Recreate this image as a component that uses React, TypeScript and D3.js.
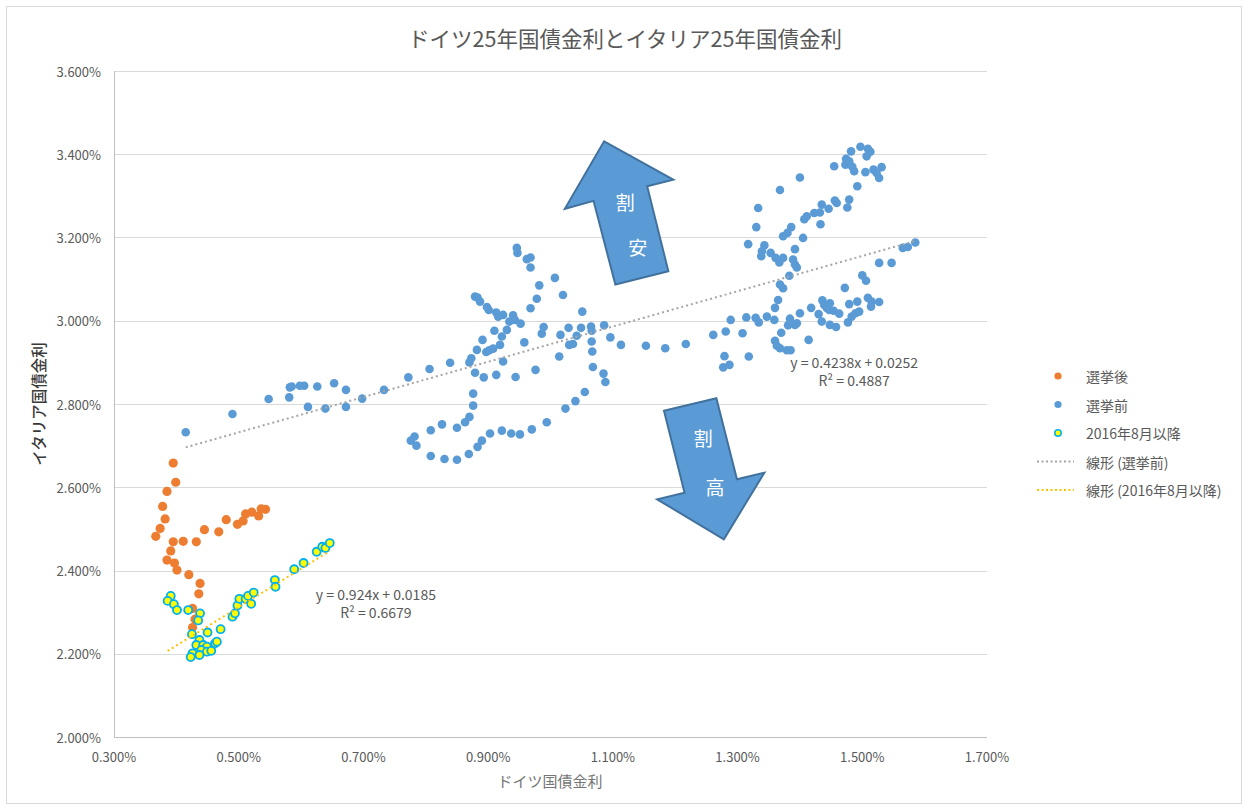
import React from 'react';
import * as d3 from 'd3';

// ---- data (values in %) ----
const afterElection: [number, number][] = [
  [0.395, 2.658], [0.399, 2.612], [0.385, 2.590], [0.378, 2.554], [0.382, 2.524], [0.374, 2.501],
  [0.367, 2.482], [0.395, 2.469], [0.411, 2.470], [0.391, 2.447], [0.385, 2.425], [0.397, 2.418],
  [0.401, 2.401], [0.420, 2.390], [0.438, 2.369], [0.436, 2.344], [0.432, 2.469], [0.445, 2.498],
  [0.468, 2.493], [0.480, 2.522], [0.498, 2.511], [0.507, 2.519], [0.511, 2.536], [0.521, 2.540],
  [0.532, 2.531], [0.536, 2.548], [0.543, 2.547], [0.426, 2.309], [0.430, 2.283], [0.426, 2.263],
];

const beforeElection: [number, number][] = [
  [0.415, 2.732], [0.490, 2.776], [0.548, 2.812], [0.581, 2.816], [0.582, 2.840], [0.585, 2.842],
  [0.598, 2.844], [0.605, 2.844], [0.626, 2.842], [0.611, 2.793], [0.639, 2.789], [0.653, 2.850],
  [0.672, 2.834], [0.672, 2.793], [0.698, 2.813], [0.733, 2.834], [0.772, 2.864], [0.806, 2.884],
  [0.839, 2.899],
  [0.946, 3.175], [0.947, 3.163], [0.962, 3.148], [0.968, 3.152], [0.968, 3.128], [1.007, 3.103],
  [0.982, 3.085], [1.020, 3.062], [0.978, 3.053], [0.968, 3.030], [1.051, 3.022], [0.879, 3.058],
  [0.883, 3.056], [0.887, 3.046], [0.898, 3.033], [0.901, 3.026], [0.913, 3.020], [0.916, 3.010],
  [0.924, 3.014], [0.940, 3.013], [0.943, 3.002], [0.934, 2.998], [0.952, 2.993], [0.930, 2.978],
  [0.910, 2.976], [0.922, 2.962], [0.891, 2.954], [0.919, 2.942], [0.908, 2.933], [0.902, 2.929],
  [0.897, 2.925], [0.882, 2.930], [0.873, 2.910], [0.870, 2.900], [0.924, 2.902], [0.958, 2.948],
  [0.989, 2.985], [0.986, 2.969], [1.016, 2.966], [1.029, 2.983], [1.042, 2.964], [1.049, 2.983],
  [1.065, 2.986], [1.066, 2.976], [1.086, 2.989], [1.096, 2.960], [1.113, 2.942], [1.153, 2.940],
  [1.184, 2.934], [1.217, 2.944], [1.030, 2.942], [1.036, 2.944], [1.066, 2.950], [1.067, 2.926],
  [1.014, 2.914], [1.068, 2.889], [1.085, 2.873], [1.088, 2.853], [0.976, 2.882], [0.944, 2.865],
  [0.913, 2.870], [0.893, 2.864], [0.879, 2.875], [0.876, 2.825], [0.876, 2.796], [0.870, 2.769],
  [0.863, 2.756], [0.850, 2.743], [0.826, 2.751], [0.808, 2.737], [0.782, 2.722], [0.776, 2.712],
  [0.785, 2.700], [0.808, 2.675], [0.830, 2.668], [0.850, 2.666], [0.869, 2.680], [0.883, 2.697],
  [0.890, 2.712], [0.903, 2.729], [0.922, 2.736], [0.937, 2.729], [0.951, 2.727], [0.970, 2.739],
  [0.994, 2.756], [1.024, 2.789], [1.040, 2.807], [1.055, 2.829],
  [1.261, 2.966], [1.281, 2.974], [1.289, 3.002], [1.308, 2.970], [1.314, 3.008], [1.329, 3.007],
  [1.334, 2.996], [1.347, 3.010], [1.359, 3.002], [1.365, 3.050], [1.360, 3.031], [1.368, 3.087],
  [1.373, 3.078], [1.383, 3.108], [1.370, 2.971], [1.360, 2.952], [1.363, 2.940], [1.368, 2.934],
  [1.379, 2.929], [1.385, 2.929], [1.279, 2.915], [1.277, 2.888], [1.287, 2.894], [1.318, 2.914],
  [1.381, 2.989], [1.384, 3.005], [1.392, 2.990], [1.395, 2.994], [1.400, 3.018], [1.414, 2.954],
  [1.418, 3.031], [1.430, 3.016], [1.436, 3.049], [1.439, 3.038], [1.443, 3.031], [1.448, 3.042],
  [1.447, 3.026], [1.454, 3.024], [1.463, 3.017], [1.435, 2.998], [1.448, 2.990], [1.458, 2.985],
  [1.472, 3.079], [1.479, 3.040], [1.492, 3.046], [1.477, 2.996], [1.483, 3.010], [1.489, 3.018],
  [1.495, 3.022], [1.500, 3.109], [1.506, 3.096], [1.509, 3.055], [1.515, 3.046], [1.527, 3.045],
  [1.514, 3.034], [1.527, 3.139], [1.547, 3.139], [1.565, 3.175], [1.573, 3.177], [1.585, 3.188],
  [1.368, 3.314], [1.333, 3.271], [1.330, 3.225], [1.317, 3.184], [1.343, 3.181], [1.339, 3.167],
  [1.338, 3.155], [1.353, 3.163], [1.361, 3.151], [1.367, 3.140], [1.373, 3.151], [1.392, 3.172],
  [1.389, 3.147], [1.392, 3.135], [1.395, 3.128], [1.386, 3.225], [1.380, 3.211], [1.373, 3.203],
  [1.405, 3.199], [1.400, 3.344], [1.411, 3.251], [1.407, 3.244], [1.423, 3.259], [1.432, 3.260],
  [1.435, 3.279], [1.446, 3.269], [1.456, 3.289], [1.459, 3.283], [1.433, 3.232], [1.479, 3.291],
  [1.476, 3.272], [1.492, 3.323], [1.455, 3.371], [1.497, 3.418], [1.509, 3.413], [1.513, 3.406],
  [1.482, 3.407], [1.474, 3.389], [1.473, 3.375], [1.479, 3.383], [1.484, 3.370], [1.487, 3.359],
  [1.507, 3.395], [1.505, 3.357], [1.518, 3.363], [1.523, 3.355], [1.531, 3.369], [1.527, 3.343],
];

const sinceAug2016: [number, number][] = [
  [0.391, 2.339], [0.386, 2.327], [0.396, 2.319], [0.401, 2.305], [0.419, 2.305], [0.438, 2.297],
  [0.435, 2.280], [0.425, 2.247], [0.450, 2.251], [0.471, 2.259], [0.437, 2.233], [0.432, 2.221],
  [0.443, 2.221], [0.449, 2.217], [0.462, 2.225], [0.465, 2.229], [0.440, 2.209], [0.449, 2.205],
  [0.456, 2.207], [0.426, 2.201], [0.437, 2.197], [0.423, 2.192], [0.490, 2.289], [0.494, 2.297],
  [0.498, 2.316], [0.501, 2.332], [0.511, 2.332], [0.515, 2.339], [0.520, 2.320], [0.524, 2.347],
  [0.558, 2.377], [0.559, 2.361], [0.589, 2.403], [0.604, 2.418], [0.625, 2.445], [0.634, 2.457],
  [0.639, 2.454], [0.646, 2.466],
];

const xTicks = [0.3, 0.5, 0.7, 0.9, 1.1, 1.3, 1.5, 1.7];
const yTicks = [2.0, 2.2, 2.4, 2.6, 2.8, 3.0, 3.2, 3.4, 3.6];

// trendline coefficients (fraction units, as in the chart)
const trendBefore = { slope: 0.4238, intercept: 0.0252, r2: 0.4887, eqPos: [1.487, 2.901] as [number, number] };
const trendAug = { slope: 0.924, intercept: 0.0185, r2: 0.6679, eqPos: [0.720, 2.344] as [number, number] };

const title = 'ドイツ25年国債金利とイタリア25年国債金利';
const xTitle = 'ドイツ国債金利';
const yTitle = 'イタリア国債金利';
const legendLabels = ['選挙後', '選挙前', '2016年8月以降', '線形 (選挙前)', '線形 (2016年8月以降)'];

// annotation arrows (in data coordinates)
const upArrow: [number, number][] = [
  [1.086, 3.431], [1.197, 3.339], [1.155, 3.323], [1.189, 3.119], [1.104, 3.087], [1.069, 3.288], [1.023, 3.269],
];
const downArrow: [number, number][] = [
  [1.182, 2.784], [1.266, 2.814], [1.299, 2.619], [1.343, 2.635], [1.278, 2.475], [1.171, 2.571], [1.215, 2.587],
];
const arrowLabels: { t: string; p: [number, number] }[] = [
  { t: '割', p: [1.120, 3.286] }, { t: '安', p: [1.140, 3.178] },
  { t: '割', p: [1.245, 2.719] }, { t: '高', p: [1.264, 2.603] },
];

const W = 1248, H = 810;
const FONT = "'Noto Sans CJK JP', 'Noto Sans', sans-serif";
const C_ORANGE = '#ED7D31', C_BLUE = '#5B9BD5', C_YEL = '#FFFF00', C_YEL_STROKE = '#00B0F0';
const C_GRAYLINE = '#A5A5A5', C_GOLD = '#FFC000';

export default function App() {
  const x = d3.scaleLinear().domain([0.3, 1.7]).range([114, 987]);
  const y = d3.scaleLinear().domain([2.0, 3.6]).range([737, 71]);
  const fmt = (v: number) => d3.format('.3f')(v) + '%';
  const line = d3.line<[number, number]>().x(d => x(d[0])).y(d => y(d[1]));
  const trend = (data: [number, number][], t: { slope: number; intercept: number }) => {
    const [x0, x1] = d3.extent(data, d => d[0]) as [number, number];
    return line([[x0, t.slope * x0 + t.intercept * 100], [x1, t.slope * x1 + t.intercept * 100]]) || '';
  };
  const poly = (pts: [number, number][]) => (line(pts) || '') + 'Z';
  const px = (v: number) => Math.round(v) + 0.5;

  const legendX = 1058, legendY0 = 376, legendDy = 28.5;

  return (
    <svg width={W} height={H} style={{ position: 'absolute', left: 0, top: 0 }} fontFamily={FONT}>
      <rect x={0} y={0} width={W} height={H} fill="#fff" />
      <rect x={6.5} y={6.5} width={1235} height={797} fill="none" stroke="#D9D9D9" />

      <text x={625} y={37} textAnchor="middle" dominantBaseline="central" fontSize={21.5} fill="#595959">{title}</text>

      {/* gridlines */}
      {yTicks.map(t => (
        <line key={t} x1={114} x2={987} y1={px(y(t))} y2={px(y(t))} stroke={t === 2.0 ? '#BFBFBF' : '#D9D9D9'} strokeWidth={1} />
      ))}
      <line x1={px(x(0.3))} x2={px(x(0.3))} y1={y(3.6)} y2={y(2.0) + 0.5} stroke="#BFBFBF" />

      {/* tick labels */}
      {yTicks.map(t => (
        <text key={t} x={101} y={y(t)} textAnchor="end" dominantBaseline="central" fontSize={13} fill="#595959">{fmt(t)}</text>
      ))}
      {xTicks.map(t => (
        <text key={t} x={x(t)} y={756} textAnchor="middle" dominantBaseline="central" fontSize={13} fill="#595959">{fmt(t)}</text>
      ))}

      <text x={550} y={780} textAnchor="middle" dominantBaseline="central" fontSize={15} fill="#767676">{xTitle}</text>
      <text transform={`translate(38,${y(2.8)}) rotate(-90)`} textAnchor="middle" dominantBaseline="central" fontSize={15.5} fill="#3A3A3A" fontWeight={500}>{yTitle}</text>

      {/* series */}
      {afterElection.map((d, i) => (
        <circle key={'o' + i} cx={x(d[0])} cy={y(d[1])} r={4.6} fill={C_ORANGE} />
      ))}
      {beforeElection.map((d, i) => (
        <circle key={'b' + i} cx={x(d[0])} cy={y(d[1])} r={4.3} fill={C_BLUE} />
      ))}
      {sinceAug2016.map((d, i) => (
        <circle key={'y' + i} cx={x(d[0])} cy={y(d[1])} r={4.0} fill={C_YEL} stroke={C_YEL_STROKE} strokeWidth={1.8} />
      ))}

      {/* trendlines */}
      <path d={trend(beforeElection, trendBefore)} stroke={C_GRAYLINE} strokeWidth={2} strokeDasharray="2 3" fill="none" />
      <path d={trend(sinceAug2016, trendAug)} stroke={C_GOLD} strokeWidth={2} strokeDasharray="2 3" fill="none" />

      {/* equations */}
      {[trendBefore, trendAug].map((t, i) => (
        <g key={'eq' + i} fontSize={14} fill="#595959" textAnchor="middle">
          <text x={x(t.eqPos[0])} y={y(t.eqPos[1])} dominantBaseline="central">{`y = ${t.slope}x + ${t.intercept}`}</text>
          <text x={x(t.eqPos[0])} y={y(t.eqPos[1]) + 18} dominantBaseline="central">{`R² = ${t.r2}`}</text>
        </g>
      ))}

      {/* arrows */}
      <path d={poly(upArrow)} fill={C_BLUE} stroke="#41719C" strokeWidth={2} strokeLinejoin="miter" />
      <path d={poly(downArrow)} fill={C_BLUE} stroke="#41719C" strokeWidth={2} strokeLinejoin="miter" />
      {arrowLabels.map((a, i) => (
        <text key={'al' + i} x={x(a.p[0])} y={y(a.p[1])} textAnchor="middle" dominantBaseline="central" fontSize={19} fill="#fff">{a.t}</text>
      ))}

      {/* legend */}
      {legendLabels.map((lab, i) => {
        const ly = legendY0 + i * legendDy;
        return (
          <g key={'lg' + i}>
            {i === 0 && <circle cx={legendX} cy={ly} r={3.6} fill={C_ORANGE} />}
            {i === 1 && <circle cx={legendX} cy={ly} r={3.6} fill={C_BLUE} />}
            {i === 2 && <circle cx={legendX} cy={ly} r={3.2} fill={C_YEL} stroke={C_YEL_STROKE} strokeWidth={1.5} />}
            {i === 3 && <line x1={1037} x2={1074} y1={ly} y2={ly} stroke={C_GRAYLINE} strokeWidth={2} strokeDasharray="2 2.5" />}
            {i === 4 && <line x1={1037} x2={1074} y1={ly} y2={ly} stroke={C_GOLD} strokeWidth={2} strokeDasharray="2 2.5" />}
            <text x={1086} y={ly} dominantBaseline="central" fontSize={14} fill="#595959">{lab}</text>
          </g>
        );
      })}
    </svg>
  );
}
